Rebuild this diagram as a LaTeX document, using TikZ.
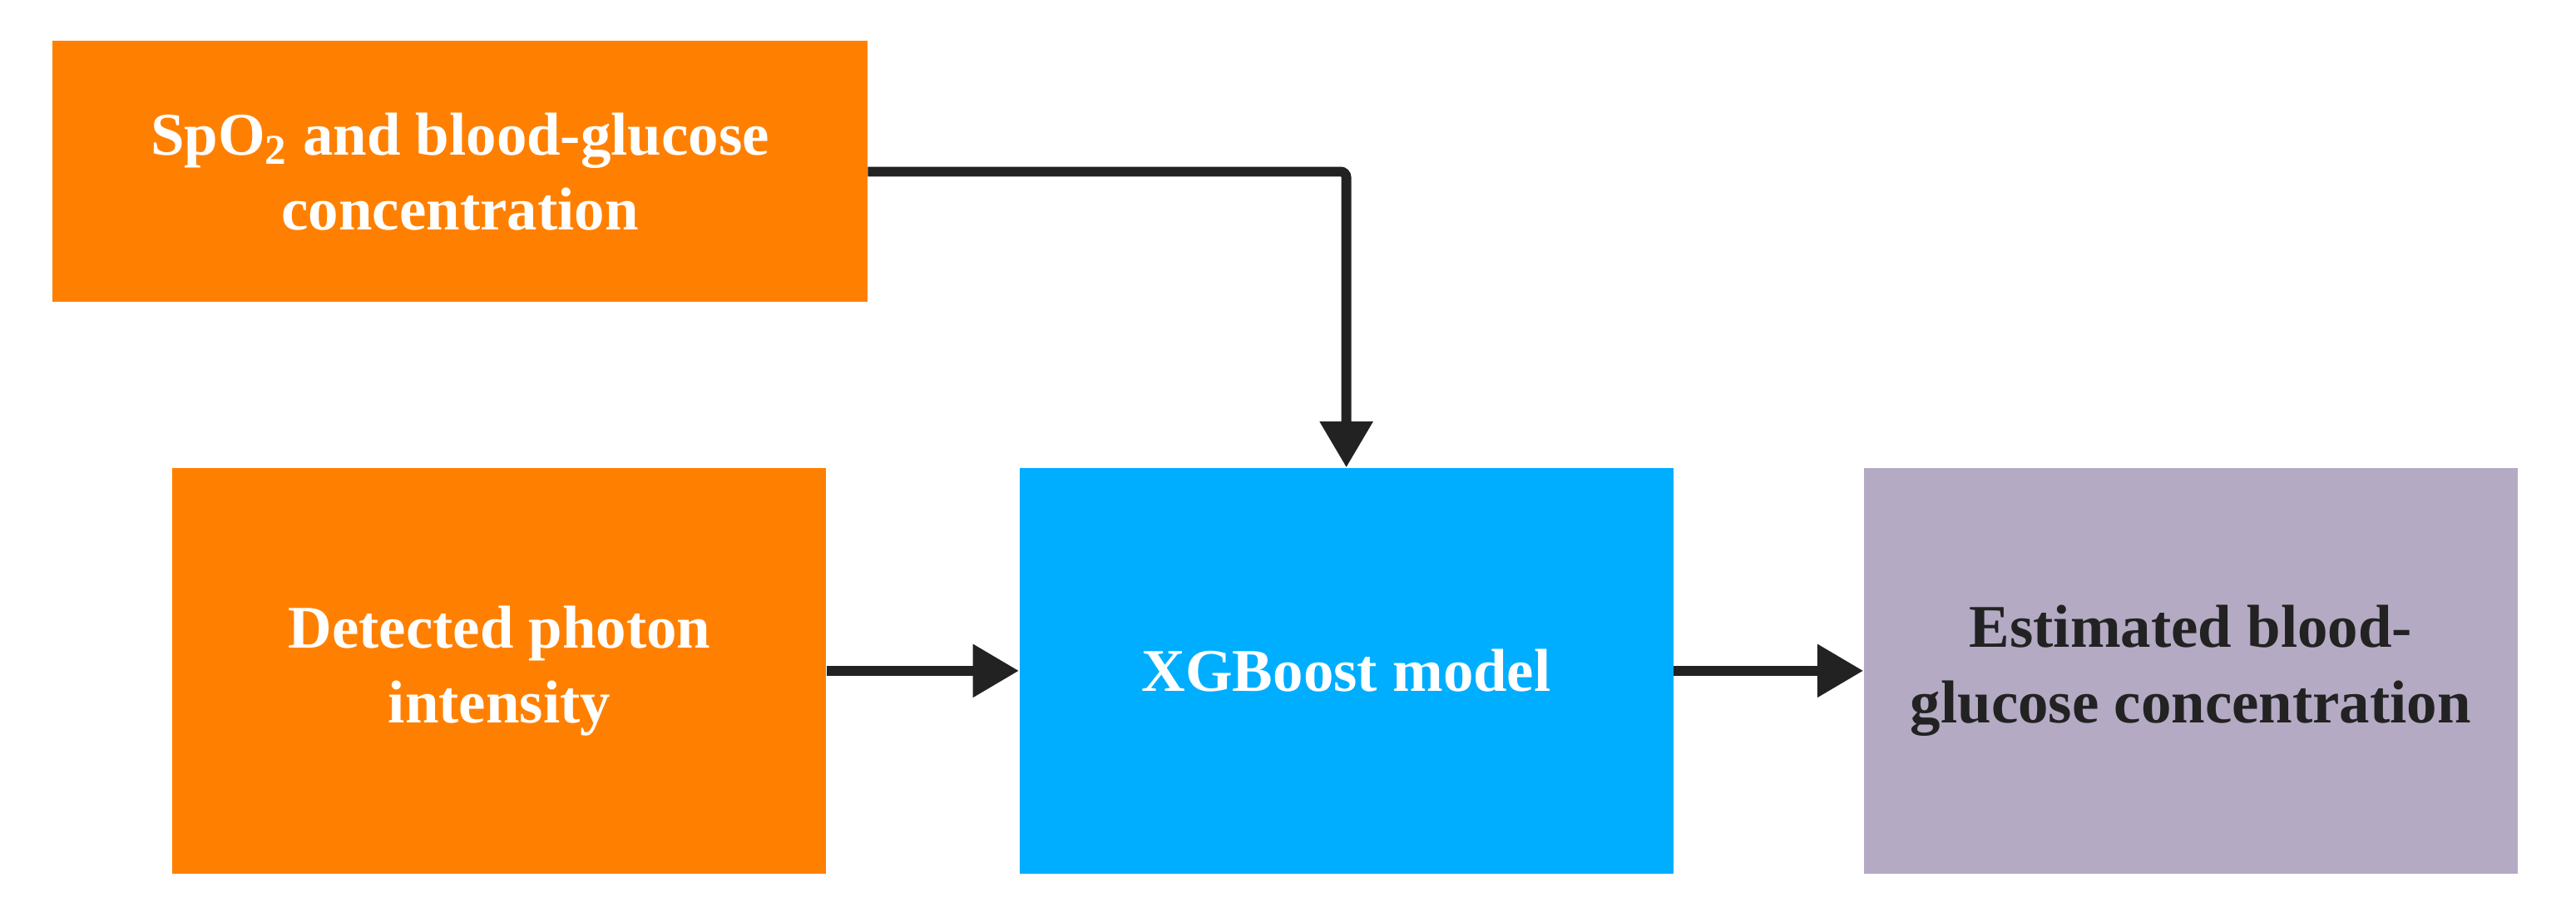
\documentclass[tikz,border=0pt]{standalone}
\usepackage{fontspec}
\setmainfont{Liberation Serif}
\usetikzlibrary{arrows.meta,positioning}
\definecolor{boxorange}{HTML}{FF8000}
\definecolor{boxblue}{HTML}{00AEFF}
\definecolor{boxgray}{HTML}{B4AAC4}
\definecolor{linedark}{HTML}{222222}
\begin{document}
\begin{tikzpicture}[
    x=0.02cm, y=-0.02cm,
    block/.style={rectangle, minimum width=7.96cm, minimum height=4.94cm, align=center,
        font=\fontsize{21}{26}\selectfont\bfseries, text=white},
    arrow/.style={-{Triangle[length=0.56cm,width=0.62cm]}, line width=3.4pt, draw=linedark,
        rounded corners=2pt}
]
\useasboundingbox (0,0) rectangle (1568,552);

% Inputs
\node[block, fill=boxorange, minimum width=9.92cm, minimum height=3.18cm] (spo) at (280,104.5)
    {SpO\textsubscript{2} and blood-glucose\\concentration};
\node[block, fill=boxorange] (photon) at (304,408.5) {Detected photon\\intensity};

% Model and output
\node[block, fill=boxblue] (model) at (819.5,408.5) {XGBoost model};
\node[block, fill=boxgray, text=linedark] (out) at (1333.5,408.5) {Estimated blood-\\glucose concentration};

% Arrows
\draw[arrow] (spo.east) -| (model.north);
\draw[arrow] (photon) -- (model);
\draw[arrow] (model) -- (out);

\end{tikzpicture}
\end{document}
